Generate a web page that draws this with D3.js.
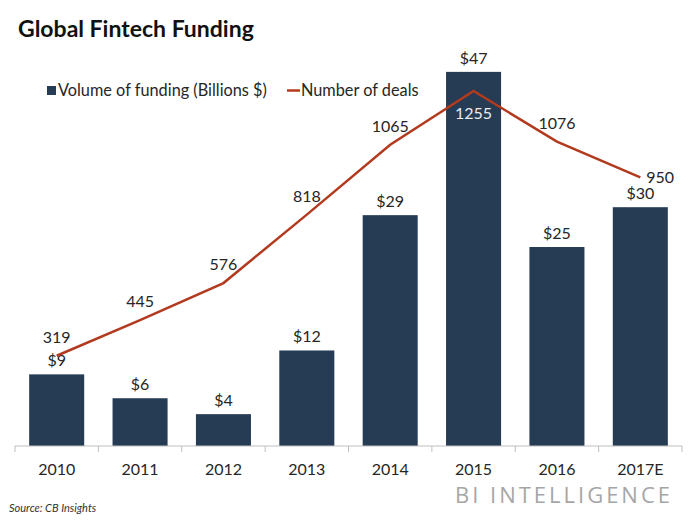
<!DOCTYPE html>
<html>
<head>
<meta charset="utf-8">
<script src="https://cdn.jsdelivr.net/npm/d3@7"></script>
<style>
  html, body { margin: 0; padding: 0; background: #fff; }
  svg { display: block; font-family: Lato, "Open Sans", sans-serif; }
</style>
</head>
<body>
<svg id="chart" width="700" height="525"></svg>
<script>
const categories = ["2010", "2011", "2012", "2013", "2014", "2015", "2016", "2017E"];
const funding = [9, 6, 4, 12, 29, 47, 25, 30];
const fundingLabels = ["$9", "$6", "$4", "$12", "$29", "$47", "$25", "$30"];
const deals = [319, 445, 576, 818, 1065, 1255, 1076, 950];
const dealPlacement = ["above", "above", "above", "above", "above", "below", "above", "right"];

const svg = d3.select("#chart");
const barColor = "#263b54";
const lineColor = "#b23a1e";
const textColor = "#262626";

const x = d3.scaleBand().domain(categories).range([15, 682]).paddingInner(0.34).paddingOuter(0.17);
const yBar = d3.scaleLinear().domain([0, 50]).range([446, 48]);
const yLine = d3.scaleLinear().domain([0, 1400]).range([446, 50]);

// Title
svg.append("text").attr("x", 18).attr("y", 37)
  .attr("font-size", 23).attr("font-weight", 700).attr("fill", "#111")
  .text("Global Fintech Funding");

// Bars
svg.append("g").selectAll("rect").data(categories).join("rect")
  .attr("x", d => x(d))
  .attr("y", (d, i) => yBar(funding[i]))
  .attr("width", x.bandwidth())
  .attr("height", (d, i) => yBar(0) - yBar(funding[i]))
  .attr("fill", barColor);

// Bar labels
svg.append("g").selectAll("text").data(categories).join("text")
  .attr("x", d => x(d) + x.bandwidth() / 2)
  .attr("y", (d, i) => yBar(funding[i]) - 8)
  .attr("text-anchor", "middle")
  .attr("font-size", 16).attr("fill", textColor)
  .text((d, i) => fundingLabels[i]);

// Axis
const axisG = svg.append("g").attr("transform", `translate(0,${yBar(0)})`);
axisG.append("line").attr("x1", 15).attr("x2", 682).attr("y1", 0).attr("y2", 0)
  .attr("stroke", "#bfbfbf").attr("stroke-width", 1);
const boundaries = d3.range(categories.length + 1).map(i => 15 + i * (667 / categories.length));
axisG.selectAll("line.tick").data(boundaries).join("line").attr("class", "tick")
  .attr("x1", d => d).attr("x2", d => d).attr("y1", 0).attr("y2", 6)
  .attr("stroke", "#bfbfbf");
axisG.selectAll("text").data(categories).join("text")
  .attr("x", d => x(d) + x.bandwidth() / 2)
  .attr("y", 29)
  .attr("text-anchor", "middle")
  .attr("font-size", 16).attr("fill", textColor)
  .text(d => d);

// Line
const cx = d => x(d) + x.bandwidth() / 2;
const line = d3.line().x((d, i) => cx(categories[i])).y(d => yLine(d));
svg.append("path").datum(deals).attr("d", line)
  .attr("fill", "none").attr("stroke", lineColor).attr("stroke-width", 2.5)
  .attr("stroke-linejoin", "miter");

// Line labels
svg.append("g").selectAll("text").data(deals).join("text")
  .attr("x", (d, i) => dealPlacement[i] === "right" ? cx(categories[i]) + 6 : cx(categories[i]))
  .attr("y", (d, i) => {
    const p = yLine(d);
    if (dealPlacement[i] === "below") return p + 28;
    if (dealPlacement[i] === "right") return p + 6;
    return p - 13;
  })
  .attr("text-anchor", (d, i) => dealPlacement[i] === "right" ? "start" : "middle")
  .attr("font-size", 16)
  .attr("fill", (d, i) => dealPlacement[i] === "below" ? "#e8ecf2" : textColor)
  .text(d => d);

// Legend
const lg = svg.append("g");
lg.append("rect").attr("x", 47).attr("y", 86).attr("width", 9).attr("height", 9).attr("fill", barColor);
lg.append("text").attr("x", 58).attr("y", 96).attr("font-size", 16.3).attr("fill", textColor)
  .text("Volume of funding (Billions $)");
lg.append("line").attr("x1", 287).attr("x2", 300).attr("y1", 90.5).attr("y2", 90.5)
  .attr("stroke", lineColor).attr("stroke-width", 2.5);
lg.append("text").attr("x", 301).attr("y", 96).attr("font-size", 16.3).attr("fill", textColor)
  .text("Number of deals");

// Source
svg.append("text").attr("x", 9).attr("y", 512)
  .attr("font-size", 11).attr("font-style", "italic").attr("fill", "#333")
  .text("Source: CB Insights");

// Branding
svg.append("text").attr("x", 455).attr("y", 503)
  .attr("font-family", "'Open Sans', sans-serif")
  .attr("font-size", 22).attr("fill", "#a6a6a6")
  .attr("textLength", 215).attr("lengthAdjust", "spacing")
  .text("BI INTELLIGENCE");
</script>
</body>
</html>
